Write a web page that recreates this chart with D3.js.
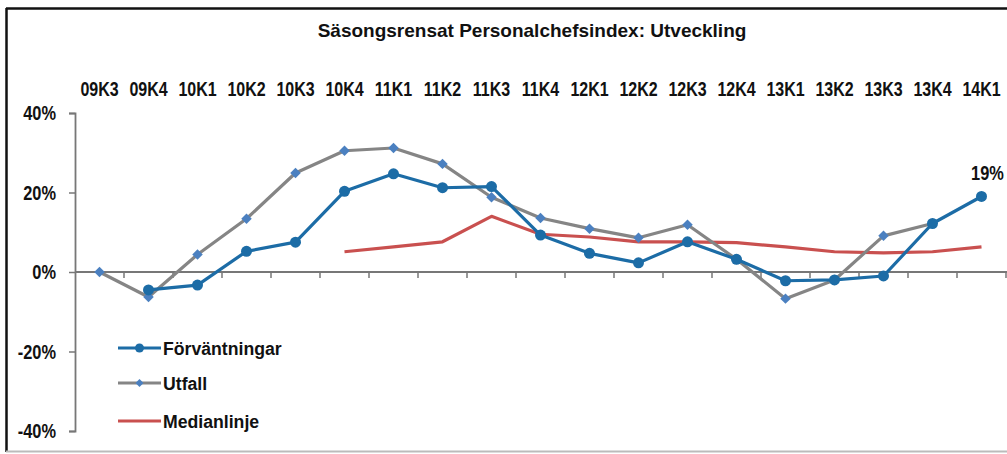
<!DOCTYPE html>
<html><head><meta charset="utf-8">
<script src="https://cdn.jsdelivr.net/npm/d3@7"></script>
<style>
html,body{margin:0;padding:0;background:#fff;}
svg{display:block;}
</style></head>
<body>
<svg id="chart" width="1007" height="454"></svg>
<script>
const categories = ["09K3","09K4","10K1","10K2","10K3","10K4","11K1","11K2","11K3","11K4","12K1","12K2","12K3","12K4","13K1","13K2","13K3","13K4","14K1"];
const forvantningar = [null,-4.5,-3.3,5.2,7.5,20.3,24.7,21.2,21.5,9.3,4.7,2.3,7.6,3.2,-2.2,-2.0,-1.0,12.2,19.0];
const utfall = [0,-6.3,4.4,13.4,24.9,30.5,31.2,27.2,18.8,13.6,10.9,8.6,11.9,3.2,-6.7,-2.0,9.1,12.2,null];
const medianlinje = [null,null,null,null,null,5.1,6.3,7.6,14.0,9.5,8.8,7.6,7.6,7.4,6.3,5.1,4.8,5.1,6.3];
const yTicks = [-40,-20,0,20,40];
const seriesNames = ["Förväntningar","Utfall","Medianlinje"];
const title = "Säsongsrensat Personalchefsindex: Utveckling";
const endLabel = "19%";

const svg = d3.select("#chart");
const font = "'Liberation Sans',Arial,sans-serif";

// frame
svg.append("line").attr("x1",6).attr("x2",1007).attr("y1",8.5).attr("y2",8.5).attr("stroke","#111").attr("stroke-width",2.5);
svg.append("line").attr("x1",6.5).attr("x2",6.5).attr("y1",8).attr("y2",452).attr("stroke","#111").attr("stroke-width",2.5);
svg.append("line").attr("x1",6).attr("x2",1007).attr("y1",451.5).attr("y2",451.5).attr("stroke","#bbb").attr("stroke-width",2);

const x = d3.scaleBand().domain(categories).range([75,1006]).padding(0);
const y = d3.scaleLinear().domain([-40,40]).range([431,113]);
const cx = d => x(d) + x.bandwidth()/2;

// condensed text helper
function ctext(sel, px, py, size, sx, anchor, dy){
  return sel.append("text")
    .attr("transform",`translate(${px},${py}) scale(${sx},1)`)
    .attr("text-anchor",anchor).attr("dy",dy||0)
    .attr("font-family",font).attr("font-weight","bold").attr("font-size",size).attr("fill","#111");
}

svg.append("text").attr("x",532).attr("y",37).attr("text-anchor","middle")
  .attr("font-family",font).attr("font-weight","bold").attr("font-size",19).attr("fill","#111").text(title);

// category labels at top
const gl = svg.append("g");
categories.forEach(c=>{ ctext(gl, cx(c), 96, 20, 0.8, "middle").text(c); });

// y axis
const yAxis = d3.axisLeft(y).tickValues(yTicks).tickSize(6).tickFormat("");
const gy = svg.append("g").attr("transform","translate(75,0)").call(yAxis);
gy.select(".domain").attr("stroke","#777").attr("stroke-width",1.8);
gy.selectAll(".tick line").attr("stroke","#777").attr("stroke-width",1.5);
yTicks.forEach(t=>{ ctext(svg, 56, y(t), 20, 0.82, "end", "0.35em").text(t+"%"); });

// x axis at zero, ticks between categories
const xAxis = d3.axisBottom(x).tickSize(6).tickFormat("");
const gx = svg.append("g").attr("transform",`translate(0,${y(0)})`).call(xAxis);
gx.select(".domain").attr("stroke","#777").attr("stroke-width",1.8).attr("d",`M75,0H1007`);
gx.selectAll(".tick").attr("transform",d=>`translate(${x(d)+x.bandwidth()},0)`);
gx.selectAll(".tick line").attr("stroke","#777").attr("stroke-width",1.5);

const line = d3.line().defined(d=>d.v!==null).x(d=>cx(d.c)).y(d=>y(d.v));
const mk = arr => categories.map((c,i)=>({c,v:arr[i]}));

const blue = "#1c6ca6", gray = "#858585", red = "#c9504f", diamond = "#4b80c0";

svg.append("path").datum(mk(medianlinje)).attr("d",line).attr("fill","none").attr("stroke",red).attr("stroke-width",3.2).attr("stroke-linejoin","round");
svg.append("path").datum(mk(utfall)).attr("d",line).attr("fill","none").attr("stroke",gray).attr("stroke-width",3.2).attr("stroke-linejoin","round");
svg.append("g").selectAll("path").data(mk(utfall).filter(d=>d.v!==null)).join("path")
  .attr("d",d3.symbol(d3.symbolDiamond2,70)).attr("transform",d=>`translate(${cx(d.c)},${y(d.v)})`).attr("fill",diamond);
svg.append("path").datum(mk(forvantningar)).attr("d",line).attr("fill","none").attr("stroke",blue).attr("stroke-width",3.2).attr("stroke-linejoin","round");
svg.append("g").selectAll("circle").data(mk(forvantningar).filter(d=>d.v!==null)).join("circle")
  .attr("cx",d=>cx(d.c)).attr("cy",d=>y(d.v)).attr("r",5.5).attr("fill",blue);

// end label
const last = categories[categories.length-1];
ctext(svg, cx(last)+6, y(forvantningar[forvantningar.length-1])-16, 20, 0.82, "middle").text(endLabel);

// legend
const legY = [348,383,421];
const lg = svg.append("g");
seriesNames.forEach((n,i)=>{
  const col = [blue,gray,red][i];
  lg.append("line").attr("x1",118).attr("x2",161).attr("y1",legY[i]).attr("y2",legY[i]).attr("stroke",col).attr("stroke-width",3.2);
  if(i===0) lg.append("circle").attr("cx",139.5).attr("cy",legY[i]).attr("r",4.5).attr("fill",blue);
  if(i===1) lg.append("path").attr("d",d3.symbol(d3.symbolDiamond2,40)).attr("transform",`translate(139.5,${legY[i]})`).attr("fill",diamond);
  ctext(lg, 163, legY[i], 19, 0.93, "start", "0.35em").text(n);
});
</script>
</body></html>
